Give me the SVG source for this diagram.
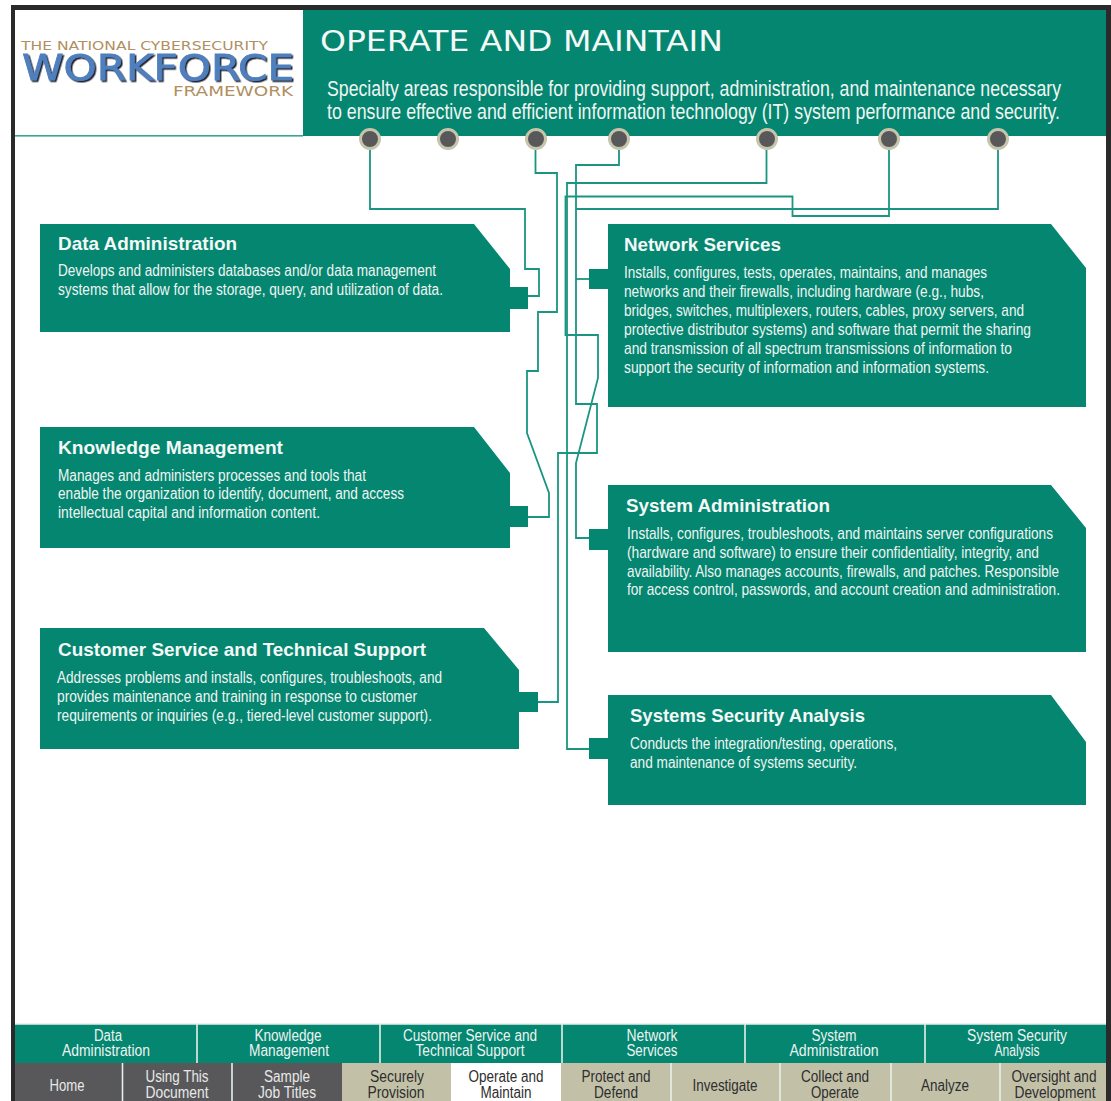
<svg xmlns="http://www.w3.org/2000/svg" width="1111" height="1101" viewBox="0 0 1111 1101">
<style>
text{font-family:"Liberation Sans",Arial,sans-serif;fill:#fff}
.h{font-weight:700;font-size:18.5px;fill:#f4f8f6}
.b{font-size:16px;fill:#f0f5f2}
.sub{font-size:21.5px;fill:#f0f5f2}
.n{font-size:16px;text-anchor:middle;fill:#eef3f0}
.d{font-size:16px;text-anchor:middle;fill:#2e2e2e}
.g{font-size:16px;text-anchor:middle;fill:#e8e8e8}
.box{fill:#048671}
.dot{fill:#58585a;stroke:#c6c5ab;stroke-width:3}
.c{fill:none;stroke:#1a9582;stroke-width:1.8;stroke-linejoin:miter}
.logo{fill:#b08f62}
.dk{fill:#58585a}.kh{fill:#c2c1a8}
.sep{stroke:#e6efe9;stroke-width:1.6}
</style>
<defs><filter id="shade" x="-5%" y="-20%" width="110%" height="140%"><feDropShadow dx="1.500" dy="1.500" stdDeviation=".6" flood-color="#20242e"/></filter></defs>
<rect width="1111" height="1101" fill="#fff"/>
<g id="frame">
<rect x="11" y="5" width="1100" height="5" fill="#2a2a2a"/>
<rect x="11" y="5" width="4" height="1096" fill="#2a2a2a"/>
<rect x="1106" y="5" width="5" height="1096" fill="#2a2a2a"/>
</g>
<g id="header">
<rect x="303" y="10" width="803" height="126" class="box"/>
<rect x="15" y="135" width="288" height="1.6" fill="#3aa593"/>
<text class="logo" x="21" y="50" font-size="12" textLength="247" lengthAdjust="spacingAndGlyphs" style="font-family:'DejaVu Sans',sans-serif">THE NATIONAL CYBERSECURITY</text>
<text x="22" y="79.500" font-size="35" textLength="272" lengthAdjust="spacingAndGlyphs" filter="url(#shade)" style="font-family:'DejaVu Sans',sans-serif;fill:#4f7fbd;stroke:#4f7fbd;stroke-width:.8">WORKFORCE</text>
<text class="logo" x="173" y="96" font-size="14" textLength="120" lengthAdjust="spacingAndGlyphs" style="font-family:'DejaVu Sans',sans-serif">FRAMEWORK</text>
<text x="320" y="51" font-size="28" textLength="403" lengthAdjust="spacingAndGlyphs" style="font-family:'DejaVu Sans',sans-serif;fill:#f4f8f6">OPERATE AND MAINTAIN</text>
<g transform="scale(.75 1)">
<text class="sub" x="436" y="96" textLength="978.670" lengthAdjust="spacingAndGlyphs">Specialty areas responsible for providing support, administration, and maintenance necessary</text>
<text class="sub" x="436" y="119" textLength="977.330" lengthAdjust="spacingAndGlyphs">to ensure effective and efficient information technology (IT) system performance and security.</text>
</g>
</g>
<g id="connectors">
<path class="c" d="M370 150V209H525V269H539V296H527"/>
<path class="c" d="M535.500 150V173H557V312H538V371H527V433L549 493V517H527"/>
<path class="c" d="M619 150V165H576V404H597V453H558V702H538"/>
<path class="c" d="M576 279H590"/>
<path class="c" d="M766.500 150V183H567V749H590"/>
<path class="c" d="M889 150V216H792.500V196.500H565.500V335H598V378L576 463V538H590"/>
<path class="c" d="M998 150V209H576"/>
</g>
<g id="dots">
<circle class="dot" cx="370" cy="139" r="9.500"/>
<circle class="dot" cx="448" cy="139" r="9.500"/>
<circle class="dot" cx="536" cy="139" r="9.500"/>
<circle class="dot" cx="619" cy="139" r="9.500"/>
<circle class="dot" cx="767" cy="139" r="9.500"/>
<circle class="dot" cx="889" cy="139" r="9.500"/>
<circle class="dot" cx="998" cy="139" r="9.500"/>
</g>
<g id="data-administration">
<path class="box" d="M40 224H474L510 269V287H528V309H510V332H40Z"/>
<text class="h" x="58" y="250" textLength="179" lengthAdjust="spacingAndGlyphs">Data Administration</text>
<text class="b" x="58" y="276" textLength="378" lengthAdjust="spacingAndGlyphs">Develops and administers databases and/or data management</text>
<text class="b" x="58" y="295" textLength="385" lengthAdjust="spacingAndGlyphs">systems that allow for the storage, query, and utilization of data.</text>
</g>
<g id="knowledge-management">
<path class="box" d="M40 427H474L510 473V506H528V527H510V548H40Z"/>
<text class="h" x="58" y="454" textLength="225" lengthAdjust="spacingAndGlyphs">Knowledge Management</text>
<text class="b" x="58" y="481" textLength="308" lengthAdjust="spacingAndGlyphs">Manages and administers processes and tools that</text>
<text class="b" x="58" y="499" textLength="346" lengthAdjust="spacingAndGlyphs">enable the organization to identify, document, and access</text>
<text class="b" x="58" y="518" textLength="262" lengthAdjust="spacingAndGlyphs">intellectual capital and information content.</text>
</g>
<g id="customer-service">
<path class="box" d="M40 628H484L519 670V692H538V712H519V749H40Z"/>
<text class="h" x="58" y="656" textLength="368" lengthAdjust="spacingAndGlyphs">Customer Service and Technical Support</text>
<text class="b" x="57" y="683" textLength="385" lengthAdjust="spacingAndGlyphs">Addresses problems and installs, configures, troubleshoots, and</text>
<text class="b" x="57" y="702" textLength="360" lengthAdjust="spacingAndGlyphs">provides maintenance and training in response to customer</text>
<text class="b" x="57" y="721" textLength="375" lengthAdjust="spacingAndGlyphs">requirements or inquiries (e.g., tiered-level customer support).</text>
</g>
<g id="network-services">
<path class="box" d="M608 224H1051L1086 268V407H608V289H589V269H608Z"/>
<text class="h" x="624" y="251" textLength="157" lengthAdjust="spacingAndGlyphs">Network Services</text>
<g transform="scale(.8 1)">
<text class="b" x="780" y="278" textLength="453.750" lengthAdjust="spacingAndGlyphs">Installs, configures, tests, operates, maintains, and manages</text>
<text class="b" x="780" y="297" textLength="450" lengthAdjust="spacingAndGlyphs">networks and their firewalls, including hardware (e.g., hubs,</text>
<text class="b" x="780" y="316" textLength="500" lengthAdjust="spacingAndGlyphs">bridges, switches, multiplexers, routers, cables, proxy servers, and</text>
<text class="b" x="780" y="335" textLength="508.750" lengthAdjust="spacingAndGlyphs">protective distributor systems) and software that permit the sharing</text>
<text class="b" x="780" y="354" textLength="485" lengthAdjust="spacingAndGlyphs">and transmission of all spectrum transmissions of information to</text>
<text class="b" x="780" y="373" textLength="456.250" lengthAdjust="spacingAndGlyphs">support the security of information and information systems.</text>
</g>
</g>
<g id="system-administration">
<path class="box" d="M608 485H1051L1086 528V652H608V550H589V529H608Z"/>
<text class="h" x="626" y="512" textLength="204" lengthAdjust="spacingAndGlyphs">System Administration</text>
<g transform="scale(.8 1)">
<text class="b" x="783.750" y="539" textLength="532.500" lengthAdjust="spacingAndGlyphs">Installs, configures, troubleshoots, and maintains server configurations</text>
<text class="b" x="783.750" y="558" textLength="515" lengthAdjust="spacingAndGlyphs">(hardware and software) to ensure their confidentiality, integrity, and</text>
<text class="b" x="783.750" y="577" textLength="540" lengthAdjust="spacingAndGlyphs">availability. Also manages accounts, firewalls, and patches. Responsible</text>
<text class="b" x="783.750" y="595" textLength="541.250" lengthAdjust="spacingAndGlyphs">for access control, passwords, and account creation and administration.</text>
</g>
</g>
<g id="systems-security-analysis">
<path class="box" d="M608 695H1051L1086 742V805H608V759H589V738H608Z"/>
<text class="h" x="630" y="722" textLength="235" lengthAdjust="spacingAndGlyphs">Systems Security Analysis</text>
<text class="b" x="630" y="749" textLength="267" lengthAdjust="spacingAndGlyphs">Conducts the integration/testing, operations,</text>
<text class="b" x="630" y="768" textLength="227" lengthAdjust="spacingAndGlyphs">and maintenance of systems security.</text>
</g>
<g id="nav-top">
<rect x="15" y="1024" width="1091" height="39" class="box"/>
<path class="sep" d="M197 1024V1063M380 1024V1063M562 1024V1063M745 1024V1063M925 1024V1063M15 1024H1106"/>
<text class="n" x="108" y="1041" textLength="28" lengthAdjust="spacingAndGlyphs">Data</text><text class="n" x="106" y="1056" textLength="88" lengthAdjust="spacingAndGlyphs">Administration</text>
<text class="n" x="288" y="1041" textLength="67" lengthAdjust="spacingAndGlyphs">Knowledge</text><text class="n" x="289" y="1056" textLength="80" lengthAdjust="spacingAndGlyphs">Management</text>
<text class="n" x="470" y="1041" textLength="134" lengthAdjust="spacingAndGlyphs">Customer Service and</text><text class="n" x="470" y="1056" textLength="109" lengthAdjust="spacingAndGlyphs">Technical Support</text>
<text class="n" x="652" y="1041" textLength="51" lengthAdjust="spacingAndGlyphs">Network</text><text class="n" x="652" y="1056" textLength="51" lengthAdjust="spacingAndGlyphs">Services</text>
<text class="n" x="834" y="1041" textLength="45" lengthAdjust="spacingAndGlyphs">System</text><text class="n" x="834" y="1056" textLength="89" lengthAdjust="spacingAndGlyphs">Administration</text>
<text class="n" x="1017" y="1041" textLength="100" lengthAdjust="spacingAndGlyphs">System Security</text><text class="n" x="1017" y="1056" textLength="45" lengthAdjust="spacingAndGlyphs">Analysis</text>
</g>
<g id="nav-bottom">
<rect x="15" y="1063" width="327" height="38" class="dk"/>
<rect x="342" y="1063" width="109" height="38" class="kh"/>
<rect x="561" y="1063" width="545" height="38" class="kh"/>
<path class="sep" d="M122.500 1063V1101M232 1063V1101M671 1063V1101M780 1063V1101M891 1063V1101M1000 1063V1101"/>
<text class="g" x="67" y="1091" textLength="35" lengthAdjust="spacingAndGlyphs">Home</text>
<text class="g" x="177" y="1082" textLength="63" lengthAdjust="spacingAndGlyphs">Using This</text><text class="g" x="177" y="1098" textLength="63" lengthAdjust="spacingAndGlyphs">Document</text>
<text class="g" x="287" y="1082" textLength="46" lengthAdjust="spacingAndGlyphs">Sample</text><text class="g" x="287" y="1098" textLength="58" lengthAdjust="spacingAndGlyphs">Job Titles</text>
<text class="d" x="397" y="1082" textLength="54" lengthAdjust="spacingAndGlyphs">Securely</text><text class="d" x="396" y="1098" textLength="57" lengthAdjust="spacingAndGlyphs">Provision</text>
<text class="d" x="506" y="1082" textLength="75" lengthAdjust="spacingAndGlyphs">Operate and</text><text class="d" x="506" y="1098" textLength="51" lengthAdjust="spacingAndGlyphs">Maintain</text>
<text class="d" x="616" y="1082" textLength="69" lengthAdjust="spacingAndGlyphs">Protect and</text><text class="d" x="616" y="1098" textLength="44" lengthAdjust="spacingAndGlyphs">Defend</text>
<text class="d" x="725" y="1091" textLength="65" lengthAdjust="spacingAndGlyphs">Investigate</text>
<text class="d" x="835" y="1082" textLength="68" lengthAdjust="spacingAndGlyphs">Collect and</text><text class="d" x="835" y="1098" textLength="48" lengthAdjust="spacingAndGlyphs">Operate</text>
<text class="d" x="945" y="1091" textLength="48" lengthAdjust="spacingAndGlyphs">Analyze</text>
<text class="d" x="1054" y="1082" textLength="85" lengthAdjust="spacingAndGlyphs">Oversight and</text><text class="d" x="1055" y="1098" textLength="81" lengthAdjust="spacingAndGlyphs">Development</text>
</g>
</svg>
